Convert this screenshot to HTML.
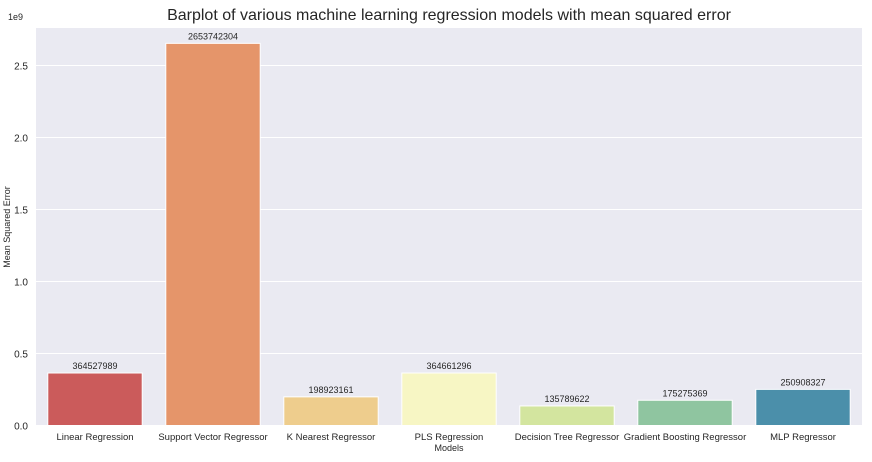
<!DOCTYPE html>
<html><head><meta charset="utf-8"><style>
body{margin:0;background:#fff;font-family:"Liberation Sans",Arial,sans-serif}
svg text{font-family:"Liberation Sans",Arial,sans-serif}
</style></head><body>
<svg id="chart" width="872" height="457">
<text x="449" y="20" text-anchor="middle" font-size="16" fill="#262626">Barplot of various machine learning regression models with mean squared error</text>
<rect x="36" y="28" width="826" height="398" fill="#eaeaf2"/>
<g id="grid"></g><g id="bars"></g><g id="labels"></g>
<text x="8" y="20" font-size="9" fill="#262626">1e9</text>
<text x="10" y="227" font-size="9" fill="#262626" text-anchor="middle" transform="rotate(-90 10 227)">Mean Squared Error</text>
<text x="449" y="451" font-size="9" fill="#262626" text-anchor="middle">Models</text>
</svg>
<script>
const categories=["Linear Regression","Support Vector Regressor","K Nearest Regressor","PLS Regression","Decision Tree Regressor","Gradient Boosting Regressor","MLP Regressor"];
const values=[364527989,2653742304,198923161,364661296,135789622,175275369,250908327];
const colors=["#cb5b5b","#e5956a","#eecd8d","#f7f6c4","#d3e59f","#8fc5a0","#4b8faa"];
const yTicks=[0,0.5,1.0,1.5,2.0,2.5];
const NS="http://www.w3.org/2000/svg";
const L=36,W=826,Y0=425.5,PX=144/1e9;
const y=v=>Y0-v*PX;
const band=W/categories.length;
function mk(t,a,p){const e=document.createElementNS(NS,t);for(const k in a)e.setAttribute(k,a[k]);p.appendChild(e);return e;}
const g=document.getElementById('grid'),b=document.getElementById('bars'),lb=document.getElementById('labels');
yTicks.forEach(t=>{const yy=y(t*1e9);
 const ln=mk('line',{x1:L,x2:L+W,y1:yy,y2:yy,stroke:'#fff','stroke-width':1},g);
 
 
 const tx=mk('text',{x:L-8,y:yy+4,'text-anchor':'end','font-size':10,fill:'#262626'},g);
 tx.textContent=t.toFixed(1);
 
 
});
categories.forEach((c,i)=>{const cx=L+band*(i+0.5),bw=band*0.8,v=values[i];
 const r=mk('rect',{x:cx-bw/2,y:y(v),width:bw,height:Y0-y(v),fill:colors[i],stroke:'#fff','stroke-width':1},b);
 
 
 const vt=mk('text',{x:cx,y:y(v)-4,'text-anchor':'middle','font-size':9,fill:'#262626'},lb);
 vt.textContent=String(v);
 
 
 const xt=mk('text',{x:cx,y:440,'text-anchor':'middle','font-size':9.5,fill:'#262626'},lb);
 xt.textContent=c;
 
 
});
</script>
</body></html>
